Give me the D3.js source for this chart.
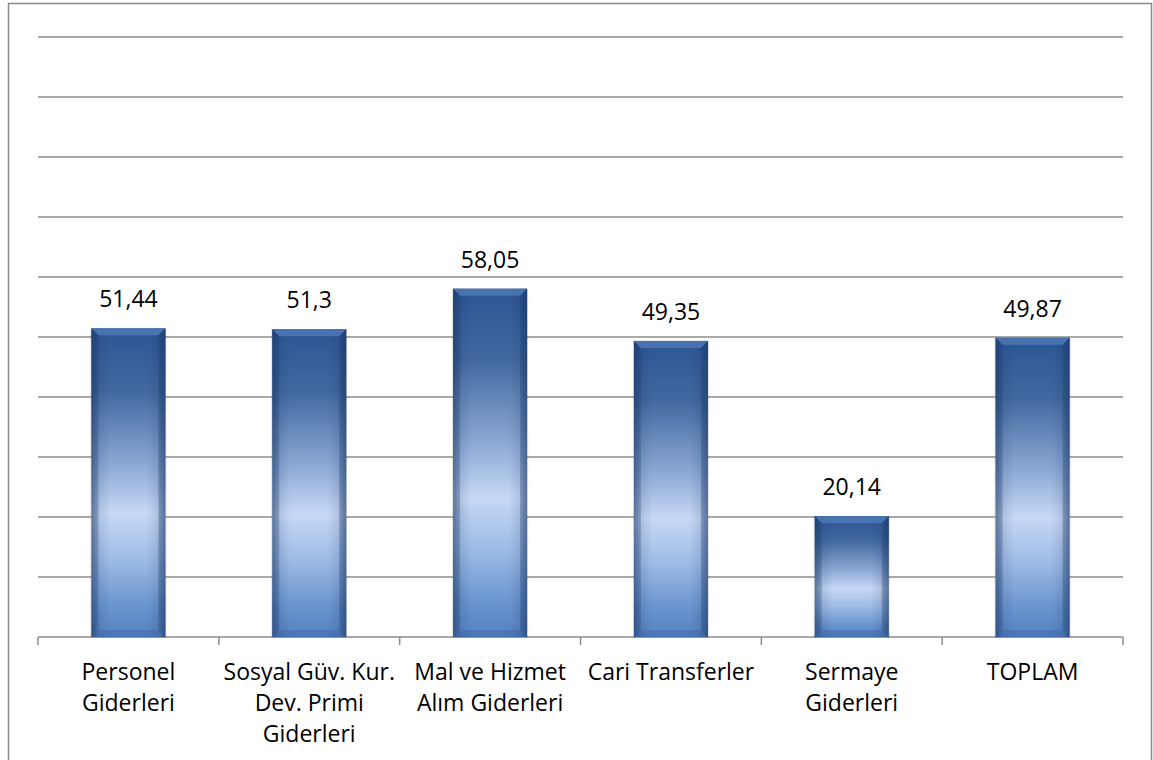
<!DOCTYPE html>
<html>
<head>
<meta charset="utf-8">
<script src="https://cdn.jsdelivr.net/npm/d3@7"></script>
<style>
	body { margin: 0; background: #fff; }
	svg { display: block; font-family: 'Open Sans', Lato, sans-serif; }
</style>
</head>
<body>
<svg width="1153" height="760"></svg>
<script>
const categories = [
	['Personel', 'Giderleri'],
	['Sosyal Güv. Kur.', 'Dev. Primi', 'Giderleri'],
	['Mal ve Hizmet', 'Alım Giderleri'],
	['Cari Transferler'],
	['Sermaye', 'Giderleri'],
	['TOPLAM']
]
const values = [51.44, 51.3, 58.05, 49.35, 20.14, 49.87]
const valueLabels = ['51,44', '51,3', '58,05', '49,35', '20,14', '49,87']
const yTicks = d3.range(0, 101, 10)

const svg = d3.select('svg')
const width = 1153
const height = 760
const margin = {top: 37, right: 30, bottom: 123, left: 38}
const innerW = width - margin.left - margin.right
const innerH = height - margin.top - margin.bottom

// chart border
svg.append('rect')
	.attr('x', 8.5).attr('y', 3.5)
	.attr('width', width - 10).attr('height', height + 10)
	.attr('fill', 'none')
	.attr('stroke', '#8a8a8a')
	.attr('stroke-width', 1.5)

const defs = svg.append('defs')
const vGrad = defs.append('linearGradient')
	.attr('id', 'vgrad')
	.attr('x1', 0).attr('y1', 0).attr('x2', 0).attr('y2', 1)
vGrad.selectAll('stop')
	.data([
		[0, '#2c5595'],
		[0.2, '#41689f'],
		[0.45, '#8eaad6'],
		[0.6, '#c6d8f5'],
		[0.75, '#9dbbe6'],
		[0.9, '#6a94cf'],
		[1, '#5582c2']
	])
	.join('stop')
	.attr('offset', d => d[0])
	.attr('stop-color', d => d[1])

const hGrad = defs.append('linearGradient')
	.attr('id', 'hgrad')
	.attr('x1', 0).attr('y1', 0).attr('x2', 1).attr('y2', 0)
hGrad.selectAll('stop')
	.data([
		[0, 0.45],
		[0.1, 0.12],
		[0.25, 0],
		[0.75, 0],
		[0.9, 0.12],
		[1, 0.45]
	])
	.join('stop')
	.attr('offset', d => d[0])
	.attr('stop-color', '#10284e')
	.attr('stop-opacity', d => d[1])

const g = svg.append('g')
	.attr('transform', `translate(${margin.left},${margin.top})`)

const x = d3.scaleBand()
	.domain(d3.range(categories.length))
	.range([0, innerW])

const y = d3.scaleLinear()
	.domain([0, 100])
	.range([innerH, 0])

// gridlines
g.append('g')
	.selectAll('line')
	.data(yTicks.slice(1))
	.join('line')
	.attr('x1', 0).attr('x2', innerW)
	.attr('y1', d => y(d)).attr('y2', d => y(d))
	.attr('stroke', '#8c8c8c')
	.attr('stroke-width', 1.5)

// x axis
const xAxis = g.append('g')
	.attr('transform', `translate(0,${innerH})`)
xAxis.append('line')
	.attr('x1', 0).attr('x2', innerW)
	.attr('stroke', '#8c8c8c')
	.attr('stroke-width', 1.5)
xAxis.selectAll('.tick')
	.data(d3.range(categories.length + 1))
	.join('line')
	.attr('x1', d => d * x.step()).attr('x2', d => d * x.step())
	.attr('y1', 0).attr('y2', 8)
	.attr('stroke', '#8c8c8c')
	.attr('stroke-width', 1.5)

const barW = 74
const bars = g.append('g')
	.selectAll('g')
	.data(values)
	.join('g')
	.attr('transform', (d, i) => `translate(${x(i) + x.bandwidth() / 2 - barW / 2},${y(d)})`)

// shadow
bars.append('rect')
	.attr('x', -1).attr('y', 0)
	.attr('width', barW + 2)
	.attr('height', d => innerH - y(d) + 1)
	.attr('fill', '#000')
	.attr('opacity', 0.12)

bars.append('rect')
	.attr('width', barW)
	.attr('height', d => innerH - y(d))
	.attr('fill', 'url(#vgrad)')
bars.append('rect')
	.attr('width', barW)
	.attr('height', d => innerH - y(d))
	.attr('fill', 'url(#hgrad)')

// bevel edges
const bev = 7
bars.append('path')
	.attr('d', `M0,0 L${barW},0 L${barW - bev},${bev} L${bev},${bev} Z`)
	.attr('fill', '#4c77b3')
	.attr('opacity', 0.9)
bars.append('path')
	.attr('d', d => `M0,0 L${bev},${bev} L${bev},${innerH - y(d) - bev} L0,${innerH - y(d)} Z`)
	.attr('fill', '#1d3f73')
	.attr('opacity', 0.25)
bars.append('path')
	.attr('d', d => `M${barW},0 L${barW - bev},${bev} L${barW - bev},${innerH - y(d) - bev} L${barW},${innerH - y(d)} Z`)
	.attr('fill', '#1d3f73')
	.attr('opacity', 0.3)
bars.append('path')
	.attr('d', d => `M0,${innerH - y(d)} L${bev},${innerH - y(d) - bev} L${barW - bev},${innerH - y(d) - bev} L${barW},${innerH - y(d)} Z`)
	.attr('fill', '#2c5595')
	.attr('opacity', 0.25)

// value labels
g.append('g')
	.selectAll('text')
	.data(values)
	.join('text')
	.attr('x', (d, i) => x(i) + x.bandwidth() / 2)
	.attr('y', d => y(d) - 21)
	.attr('text-anchor', 'middle')
	.attr('font-size', 23)
	.attr('fill', '#000')
	.text((d, i) => valueLabels[i])

// category labels
const catLabels = g.append('g')
	.selectAll('text')
	.data(categories)
	.join('text')
	.attr('text-anchor', 'middle')
	.attr('font-size', 23)
	.attr('fill', '#000')
	.attr('transform', (d, i) => `translate(${x(i) + x.bandwidth() / 2},${innerH + 43})`)
catLabels.selectAll('tspan')
	.data(d => d)
	.join('tspan')
	.attr('x', 0)
	.attr('y', (d, i) => i * 31)
	.text(d => d)
</script>
</body>
</html>
